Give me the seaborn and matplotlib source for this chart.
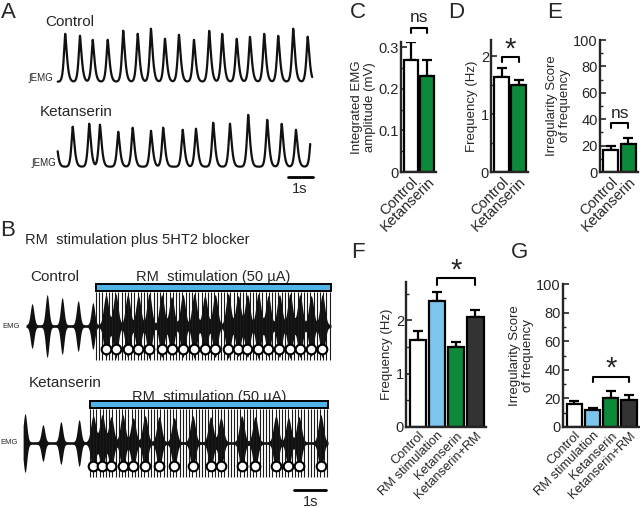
import numpy as np
import pandas as pd
import matplotlib
matplotlib.use('Agg')
import matplotlib.pyplot as plt
from matplotlib.patches import Rectangle
import seaborn as sns

# ---------------- data ----------------
# Panel A: integrated EMG peak times (s) and peak heights (a.u.)
a_ctrl_peak_t = [0.30, 0.89, 1.40, 2.00, 2.62, 3.20, 3.73, 4.29, 4.85, 5.45,
                 6.06, 6.58, 7.16, 7.69, 8.26, 8.82, 9.42, 10.00]
a_ctrl_peak_amp = [48, 46, 42, 42, 51, 48, 53, 43, 47, 42, 51, 48, 43, 45, 48, 46, 53, 45]
a_ctrl_dur = 10.18
a_ket_peak_t = [-0.10, 0.60, 1.26, 1.69, 2.42, 3.00, 3.73, 4.22, 5.00, 5.53,
                6.22, 6.89, 7.62, 8.38, 8.96, 9.53, 10.15]
a_ket_peak_amp = [42, 40, 43, 42, 35, 39, 36, 39, 37, 38, 44, 43, 52, 47, 43, 37, 40]
a_ket_dur = 10.10

# Panel B: raw EMG bursts (s) and RM stimulation
b_ctrl_start, b_ctrl_end = 0.0, 9.53
b_ctrl_pre_t = [0.19, 0.66, 1.13, 1.63, 2.09]
b_ctrl_pre_amp = [21, 30, 27, 24, 22]
b_ctrl_stim_on, b_ctrl_stim_off = 2.19, 9.53
b_ctrl_burst_t = [2.50, 2.80, 3.18, 3.51, 3.85, 4.24, 4.55, 4.90, 5.26, 5.59, 5.91,
                  6.32, 6.63, 6.92, 7.26, 7.57, 7.92, 8.25, 8.56, 8.91, 9.26]
b_ctrl_burst_amp = [30, 31, 30, 29, 31, 30, 28, 30, 31, 29, 30,
                    31, 29, 30, 31, 29, 30, 31, 30, 29, 30]
b_ket_start, b_ket_end = -0.09, 9.44
b_ket_pre_t = [-0.03, 0.53, 1.09, 1.66]
b_ket_pre_amp = [28, 17, 20, 22]
b_ket_stim_on, b_ket_stim_off = 2.00, 9.44
b_ket_burst_t = [2.10, 2.38, 2.66, 3.02, 3.35, 3.72, 4.16, 4.63, 5.21, 5.77, 6.09,
                 6.74, 7.16, 7.81, 8.20, 8.53, 9.21]
b_ket_burst_amp = [26, 27, 25, 27, 24, 26, 25, 24, 26, 25, 24,
                   26, 25, 26, 24, 25, 27]
stim_rate_hz = 10

# Panels C-E
ce_cats = ['Control', 'Ketanserin']
c_amp = [0.268, 0.230]
c_amp_err = [0.044, 0.040]
d_freq = [1.64, 1.51]
d_freq_err = [0.15, 0.075]
e_irr = [17.0, 21.5]
e_irr_err = [2.5, 4.5]

# Panels F-G
fg_cats = ['Control', 'RM stimulation', 'Ketanserin', 'Ketanserin+RM']
f_freq = [1.64, 2.36, 1.51, 2.06]
f_freq_err = [0.16, 0.17, 0.09, 0.13]
g_irr = [16.4, 12.2, 20.4, 19.2]
g_irr_err = [1.6, 1.1, 4.6, 3.0]

col_white = '#ffffff'
col_blue = '#7cc6ee'
col_green = '#0c8a3a'
col_dark = '#333333'

# ---------------- figure ----------------
sns.set_style('ticks')
plt.rcParams['font.family'] = ['Liberation Sans', 'DejaVu Sans']
W, H = 640, 508
fig = plt.figure(figsize=(W / 100, H / 100), dpi=100)


def px_axes(x0, y0, x1, y1):
    return fig.add_axes([x0 / W, 1 - y1 / H, (x1 - x0) / W, (y1 - y0) / H])


def ftxt(x, y, s, **kw):
    kw.setdefault('ha', 'center')
    kw.setdefault('va', 'center')
    fig.text(x / W, 1 - y / H, s, **kw)


# ---------- Panel A ----------
def integ_trace(t, peaks, amps):
    y = np.zeros_like(t)
    for p, a in zip(peaks, amps):
        dt = t - p
        k = np.where(dt < 0, np.exp(-(np.abs(dt) / 0.075) ** 1.4),
                     np.exp(-(np.abs(dt) / 0.10) ** 1.4))
        y += a * k
    return y

axA = px_axes(0, 0, 340, 200)
axA.set_xlim(-57.7 / 25, (340 - 57.7) / 25)
axA.set_ylim(81.7 - 200, 81.7)
axA.axis('off')
t1 = np.linspace(0, a_ctrl_dur, 3000)
axA.plot(t1, integ_trace(t1, a_ctrl_peak_t, a_ctrl_peak_amp), color='#111111', lw=1.6)
t2 = np.linspace(0, a_ket_dur, 3000)
axA.plot(t2, -85 + integ_trace(t2, a_ket_peak_t, a_ket_peak_amp), color='#111111', lw=1.6)
axA.plot([9.21, 10.21], [-95.3, -95.3], color='black', lw=2)
ftxt(300, 189, '1s', fontsize=10.5)
ftxt(8, 13, 'A', fontsize=16)
ftxt(45, 22, 'Control', fontsize=11, ha='left')
ftxt(40, 112, 'Ketanserin', fontsize=11, ha='left')
ftxt(41, 78, '∫EMG', fontsize=7)
ftxt(44, 163, '∫EMG', fontsize=7)

# ---------- Panel B ----------
axB = px_axes(0, 265, 340, 500)
axB.set_xlim(-26 / 32, (340 - 26) / 32)
axB.set_ylim(326 - 500, 326 - 265)
axB.axis('off')


def raw_trace(ax, base, start, end, pre_t, pre_amp, on, off, bt, bamp, bar_text_y):
    t = np.linspace(start, end, 4000)
    env = np.full_like(t, 1.3)
    for c, a in zip(pre_t, pre_amp):
        env += a * np.exp(-0.5 * ((t - c) / 0.055) ** 2)
    for c, a in zip(bt, bamp):
        env += a * np.exp(-0.5 * ((t - c) / 0.075) ** 2)
    ax.fill_between(t, base - env, base + env, color='#111111', lw=0)
    stim = np.arange(on, off + 1e-6, 1.0 / stim_rate_hz)
    ax.vlines(stim, base - 34, base + 34, color='#1a1a1a', lw=0.8)
    ax.add_patch(Rectangle((on, base + 35), off - on, 7, facecolor='#4fb3e8',
                           edgecolor='black', lw=1.4, zorder=4))
    ax.scatter(bt, [base - 23] * len(bt), s=48, facecolor='white',
               edgecolor='black', linewidths=1.5, zorder=5)
    ax.text((on + off) / 2, base + bar_text_y, 'RM  stimulation (50 µA)',
            ha='center', va='center', fontsize=10.5)

raw_trace(axB, 0, b_ctrl_start, b_ctrl_end, b_ctrl_pre_t, b_ctrl_pre_amp,
          b_ctrl_stim_on, b_ctrl_stim_off, b_ctrl_burst_t, b_ctrl_burst_amp, 49)
raw_trace(axB, -117, b_ket_start, b_ket_end, b_ket_pre_t, b_ket_pre_amp,
          b_ket_stim_on, b_ket_stim_off, b_ket_burst_t, b_ket_burst_amp, 46)
axB.plot([8.375, 9.375], [-164, -164], color='black', lw=2)
ftxt(311, 502, '1s', fontsize=10.5)
ftxt(8, 230, 'B', fontsize=16)
ftxt(25, 240, 'RM  stimulation plus 5HT2 blocker', fontsize=10.5, ha='left')
ftxt(30, 277, 'Control', fontsize=11, ha='left')
ftxt(29, 383, 'Ketanserin', fontsize=11, ha='left')
ftxt(11, 326, 'EMG', fontsize=5.5)
ftxt(9, 443, 'EMG', fontsize=5.5)


# ---------- bar panels ----------
def bar_panel(rect, cats, vals, errs, colors, ylim, major, labels, minor, ylabel,
              xfs=10.5):
    ax = px_axes(*rect)
    n = len(cats)
    df = pd.DataFrame({'cond': cats, 'val': vals})
    sns.barplot(data=df, x='cond', y='val', hue='cond', palette=colors,
                saturation=1, edgecolor='black', linewidth=1.6, width=0.85,
                errorbar=None, legend=False, ax=ax, zorder=2)
    ax.errorbar(np.arange(n), vals, yerr=[np.zeros(n), errs], fmt='none',
                ecolor='black', elinewidth=1.6, capsize=3.5, capthick=1.6, zorder=1)
    ax.set_xlim(-0.62, n - 1 + 0.55)
    ax.set_ylim(*ylim)
    ax.set_yticks(major, labels, fontsize=10.5)
    ax.set_yticks(minor, minor=True)
    ax.set_xticks(range(n), cats, rotation=45, ha='right', rotation_mode='anchor',
                  fontsize=xfs)
    ax.tick_params(axis='y', which='major', direction='in', length=4, width=1.2, pad=1.5)
    ax.tick_params(axis='y', which='minor', direction='in', length=2.5, width=1.0)
    ax.tick_params(axis='x', length=0, pad=2)
    for s in ('top', 'right'):
        ax.spines[s].set_visible(False)
    for s in ('left', 'bottom'):
        ax.spines[s].set_linewidth(1.7)
    ax.set_xlabel('')
    ax.set_ylabel(ylabel, fontsize=9.5, labelpad=2, linespacing=1.05)
    ax.patch.set_alpha(0)
    return ax


def bracket(ax, x0, x1, ytop, ybot, text, ytext, fs):
    ax.plot([x0, x0, x1, x1], [ybot, ytop, ytop, ybot], color='black', lw=1.5,
            clip_on=False)
    ax.text((x0 + x1) / 2, ytext, text, ha='center', va='center', fontsize=fs,
            clip_on=False)

cols2 = [col_white, col_green]
cols4 = [col_white, col_blue, col_green, col_dark]

axC = bar_panel((401, 42, 436, 172), ce_cats, c_amp, c_amp_err, cols2, (0, 0.312),
                [0, 0.1, 0.2, 0.3], ['0', '0.1', '0.2', '0.3'], [0.05, 0.15, 0.25],
                'Integrated EMG\namplitude (mV)')
bracket(axC, 0, 1, 0.346, 0.334, 'ns', 0.372, 12.5)

axD = bar_panel((491, 40, 528, 172), ce_cats, d_freq, d_freq_err, cols2, (0, 2.28),
                [0, 1, 2], ['0', '1', '2'], [0.5, 1.5], 'Frequency (Hz)')
bracket(axD, 0, 1, 1.99, 1.90, '*', 2.12, 21)

axE = bar_panel((600, 40, 638, 172), ce_cats, e_irr, e_irr_err, cols2, (0, 100),
                [0, 20, 40, 60, 80, 100], ['0', '20', '40', '60', '80', '100'],
                [10, 30, 50, 70, 90], 'Irregularity Score\nof frequency')
bracket(axE, 0, 1, 37, 33.3, 'ns', 44.5, 12.5)

axF = bar_panel((406, 282, 486, 427), fg_cats, f_freq, f_freq_err, cols4, (0, 2.72),
                [0, 1, 2], ['0', '1', '2'], [0.5, 1.5, 2.5], 'Frequency (Hz)',
                xfs=9.3)
bracket(axF, 1, 3, 2.79, 2.66, '*', 2.93, 21)

axG = bar_panel((563, 284, 639, 427), fg_cats, g_irr, g_irr_err, cols4, (0, 100),
                [0, 20, 40, 60, 80, 100], ['0', '20', '40', '60', '80', '100'],
                [10, 30, 50, 70, 90], 'Irregularity Score\nof frequency', xfs=9.3)
bracket(axG, 1, 3, 35, 31.5, '*', 41, 21)

ftxt(358, 13, 'C', fontsize=16)
ftxt(456, 13, 'D', fontsize=16)
ftxt(555, 12, 'E', fontsize=16)
ftxt(358, 253, 'F', fontsize=16)
ftxt(520, 253, 'G', fontsize=16)

fig.savefig('out.png', dpi=100)
